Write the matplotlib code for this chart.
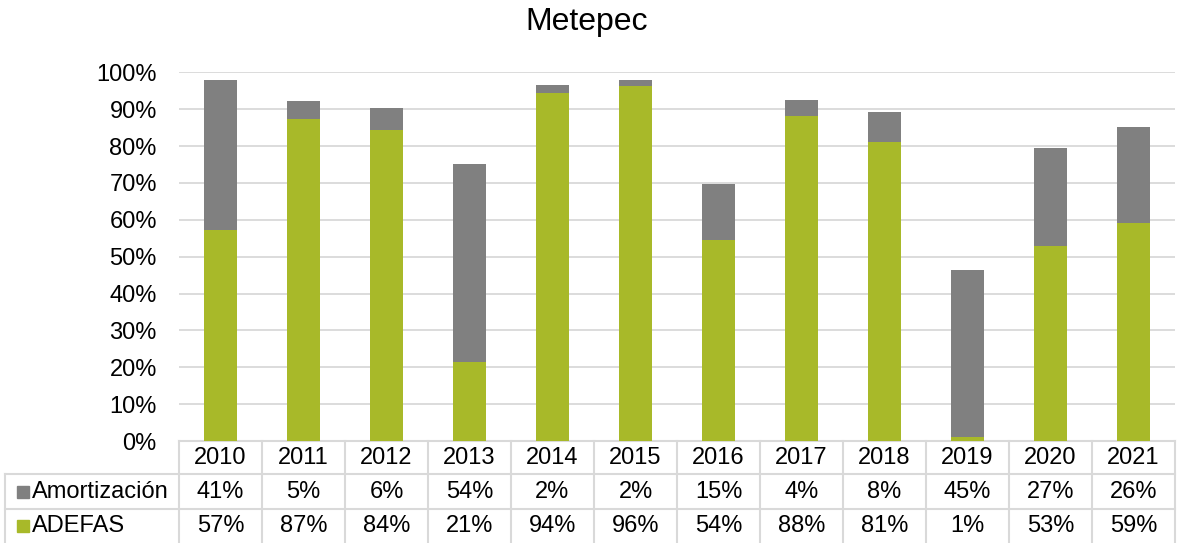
import numpy as np
import matplotlib.pyplot as plt
from matplotlib.transforms import blended_transform_factory
from matplotlib.patches import Rectangle
from matplotlib.ticker import PercentFormatter

plt.rcParams['font.family'] = ['Liberation Sans', 'DejaVu Sans']

years = ['2010', '2011', '2012', '2013', '2014', '2015',
         '2016', '2017', '2018', '2019', '2020', '2021']
adefas = [57.2, 87.4, 84.3, 21.4, 94.4, 96.2, 54.4, 88.1, 81.0, 1.1, 52.8, 59.2]
amort = [40.6, 4.9, 6.0, 53.6, 2.2, 1.6, 15.3, 4.4, 8.2, 45.2, 26.6, 26.0]

green = '#A8B929'
gray = '#808080'
grid_c = '#D9D9D9'
fs = 17

W, H = 1180, 543
fig = plt.figure(figsize=(W / 100, H / 100), dpi=100)

# plot area in pixels
left, right, top, bottom = 179, 1175, 72.3, 441
ax = fig.add_axes([left / W, 1 - bottom / H, (right - left) / W, (bottom - top) / H])

x = np.arange(len(years))
ax.bar(x, adefas, width=0.4, color=green, zorder=3)
ax.bar(x, amort, width=0.4, bottom=adefas, color=gray, zorder=3)

ax.set_xlim(-0.5, len(years) - 0.5)
ax.set_ylim(0, 100)
ax.set_yticks(np.arange(0, 101, 10))
ax.yaxis.set_major_formatter(PercentFormatter(decimals=0))
ax.tick_params(axis='y', length=0, pad=16, labelsize=fs, colors='#000000')
ax.set_xticks([])
ax.grid(axis='y', color=grid_c, lw=1.3, zorder=0)
for s in ax.spines.values():
    s.set_visible(False)

fig.text(587 / W, 1 - 22 / H, 'Metepec', ha='center', va='center', fontsize=23)

# data table under the bars
tr = blended_transform_factory(ax.transData, fig.transFigure)
row_y = [441, 474, 509, 543]
fy = [1 - v / H for v in row_y]
lx0 = 5 / W  # left edge of label column (figure fraction)
lkw = dict(color=grid_c, lw=1.5, clip_on=False)

ax.plot([-0.5, len(years) - 0.5], [fy[0], fy[0]], transform=tr, **lkw)
for yy in fy[1:3]:
    fig.add_artist(plt.Line2D([lx0, right / W], [yy, yy], **lkw))
fig.add_artist(plt.Line2D([lx0, lx0], [fy[1], fy[3]], **lkw))
for i in range(len(years) + 1):
    ax.plot([i - 0.5, i - 0.5], [fy[0], fy[3]], transform=tr, **lkw)

ymid = [(fy[k] + fy[k + 1]) / 2 for k in range(3)]
for i, yr in enumerate(years):
    ax.text(i, ymid[0], yr, transform=tr, ha='center', va='center', fontsize=fs)
    ax.text(i, ymid[1], '%.0f%%' % amort[i], transform=tr, ha='center', va='center', fontsize=fs)
    ax.text(i, ymid[2], '%.0f%%' % adefas[i], transform=tr, ha='center', va='center', fontsize=fs)

for k, (name, col) in enumerate([('Amortización', gray), ('ADEFAS', green)]):
    yc = ymid[k + 1]
    fig.add_artist(Rectangle((17 / W, yc - 6 / H), 12 / W, 12 / H, color=col,
                             transform=fig.transFigure))
    fig.text(32 / W, yc, name, ha='left', va='center', fontsize=fs)

fig.savefig('out.png', dpi=100)
